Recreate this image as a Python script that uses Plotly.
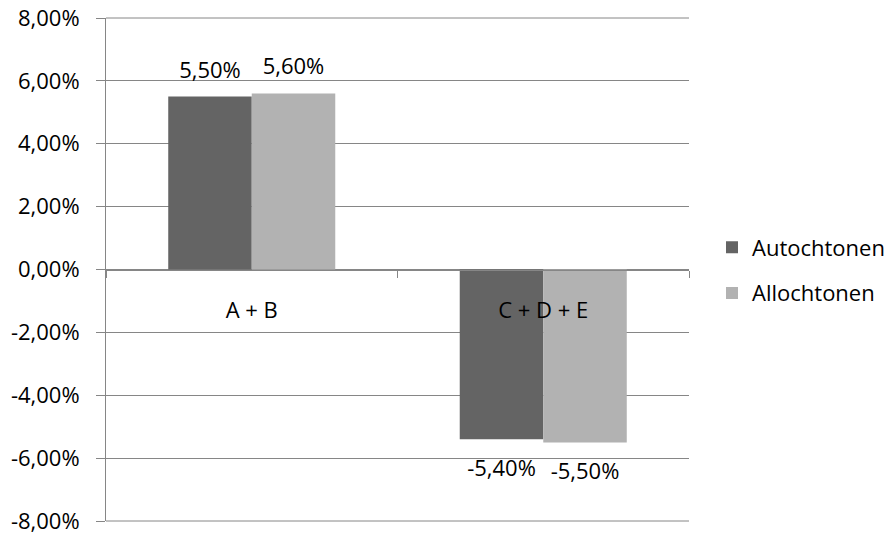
import plotly.graph_objects as go

categories = ["A + B", "C + D + E"]
series_names = ["Autochtonen", "Allochtonen"]
autochtonen = [0.055, -0.054]
allochtonen = [0.056, -0.055]
series_values = [autochtonen, allochtonen]
colors = ["#646464", "#b2b2b2"]
y_tick_vals = [0.08, 0.06, 0.04, 0.02, 0.0, -0.02, -0.04, -0.06, -0.08]
y_tick_text = ["8,00%", "6,00%", "4,00%", "2,00%", "0,00%", "-2,00%", "-4,00%", "-6,00%", "-8,00%"]


def fmt(v):
    return f"{v * 100:.2f}%".replace(".", ",")


FONT = "Open Sans"
FS = 22
GRID = "#868686"
bargap = 0.427

fig = go.Figure()
for name, vals, col in zip(series_names, series_values, colors):
    fig.add_bar(x=categories, y=vals, name=name, legendgroup=name,
                marker=dict(color=col, line=dict(width=0)), hoverinfo="skip")

group_w = 1 - bargap
n = len(series_values)
for k, vals in enumerate(series_values):
    off = -group_w / 2 + group_w / n * (k + 0.5)
    xs = [i + off for i in range(len(categories))]
    fig.add_scatter(
        x=xs, y=vals, xaxis="x2", mode="markers+text",
        text=[fmt(v) for v in vals],
        textposition=["top center" if v >= 0 else "bottom center" for v in vals],
        textfont=dict(family=FONT, size=FS, color="#000000"),
        marker=dict(size=[20 if v >= 0 else 30 for v in vals], opacity=0),
        showlegend=False, hoverinfo="skip", cliponaxis=False,
    )

# top and bottom gridlines at the range ends (unclipped, paper coordinates)
ymin, ymax = min(y_tick_vals), max(y_tick_vals)
shapes = [dict(type="line", xref="paper", yref="paper", x0=0, x1=1,
               y0=(v - ymin) / (ymax - ymin), y1=(v - ymin) / (ymax - ymin),
               line=dict(color=GRID, width=1), layer="below")
          for v in (ymin, ymax)]

fig.update_layout(
    width=890, height=534,
    margin=dict(l=106, r=201, t=18, b=13),
    paper_bgcolor="white", plot_bgcolor="white",
    font=dict(family=FONT, size=FS, color="#000000"),
    barmode="group", bargap=bargap, bargroupgap=0,
    showlegend=True,
    shapes=shapes,
    legend=dict(xref="container", yref="container", x=712 / 890, y=1 - 270.5 / 534,
                xanchor="left", yanchor="middle", traceorder="grouped",
                tracegroupgap=14, font=dict(family=FONT, size=FS),
                bgcolor="rgba(0,0,0,0)"),
    xaxis=dict(type="category", range=[-0.5, 1.5], anchor="free", position=0.5,
               showline=True, linecolor=GRID, linewidth=1, ticks="outside",
               tickson="boundaries", ticklen=7, tickcolor=GRID, showgrid=False,
               zeroline=False, ticklabelstandoff=21, fixedrange=True,
               automargin=False),
    xaxis2=dict(overlaying="x", range=[-0.5, 1.5], visible=False, anchor="y"),
    yaxis=dict(range=[ymin, ymax], tickvals=y_tick_vals, ticktext=y_tick_text,
               showgrid=True, gridcolor=GRID, gridwidth=1, showline=True,
               linecolor=GRID, linewidth=1, ticks="outside", ticklen=9,
               tickcolor=GRID, zeroline=False, ticklabelstandoff=12,
               automargin=False, ticklabeloverflow="allow"),
)

fig.write_html("out.html")
